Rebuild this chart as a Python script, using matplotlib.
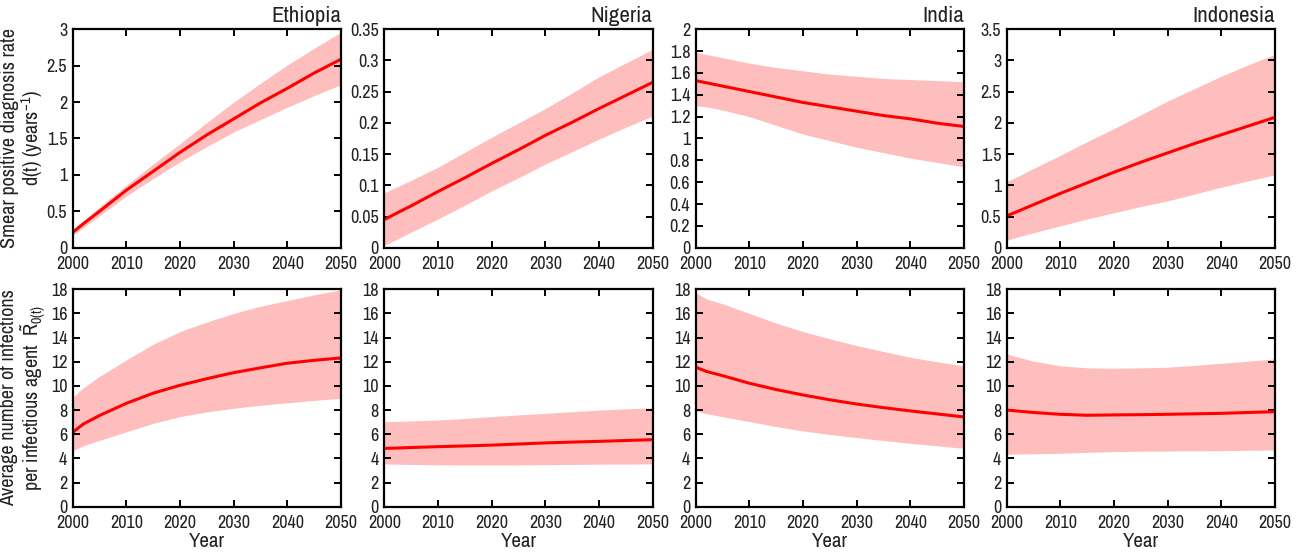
#!/usr/bin/env python
import numpy as np
import matplotlib
matplotlib.use("Agg")
from matplotlib import pyplot as plt
from matplotlib import font_manager
from matplotlib.ticker import FuncFormatter

# pick a narrow family if one is installed, the reference uses a condensed face
names = sorted({f.name for f in font_manager.fontManager.ttflist})
narrow = [n for n in names if "Narrow" in n or "Condensed" in n]
fam = narrow[0] if narrow else "Liberation Sans"
plt.rcParams['font.family'] = [fam, 'DejaVu Sans']
plt.rcParams['mathtext.fontset'] = 'custom'
plt.rcParams['mathtext.rm'] = fam
plt.rcParams['mathtext.it'] = fam
fs_scale = 1.0 if narrow else 0.88

countries = ["Ethiopia", "Nigeria", "India", "Indonesia"]
years = [2000, 2002, 2005, 2010, 2015, 2020, 2025, 2030, 2035, 2040, 2045, 2050]

# smear positive diagnosis rate d(t): median, upper, lower
d_mid = {
    "Ethiopia": [0.21, 0.33, 0.50, 0.79, 1.05, 1.31, 1.55, 1.77, 1.99, 2.19, 2.40, 2.59],
    "Nigeria": [0.045, 0.054, 0.067, 0.090, 0.112, 0.135, 0.157, 0.180, 0.201, 0.223, 0.244, 0.265],
    "India": [1.53, 1.51, 1.48, 1.43, 1.38, 1.33, 1.29, 1.25, 1.21, 1.18, 1.14, 1.11],
    "Indonesia": [0.51, 0.58, 0.69, 0.87, 1.04, 1.21, 1.37, 1.52, 1.67, 1.81, 1.95, 2.09],
}
d_hi = {
    "Ethiopia": [0.25, 0.37, 0.56, 0.86, 1.15, 1.43, 1.72, 2.00, 2.26, 2.51, 2.74, 2.96],
    "Nigeria": [0.088, 0.096, 0.108, 0.129, 0.153, 0.177, 0.200, 0.223, 0.248, 0.274, 0.296, 0.318],
    "India": [1.79, 1.77, 1.74, 1.69, 1.65, 1.62, 1.59, 1.57, 1.55, 1.54, 1.53, 1.52],
    "Indonesia": [1.06, 1.14, 1.27, 1.48, 1.70, 1.91, 2.13, 2.35, 2.55, 2.75, 2.93, 3.10],
}
d_lo = {
    "Ethiopia": [0.17, 0.28, 0.44, 0.71, 0.95, 1.18, 1.39, 1.59, 1.76, 1.93, 2.09, 2.24],
    "Nigeria": [0.004, 0.012, 0.025, 0.046, 0.068, 0.091, 0.112, 0.134, 0.154, 0.174, 0.193, 0.211],
    "India": [1.30, 1.29, 1.26, 1.20, 1.12, 1.04, 0.98, 0.92, 0.87, 0.82, 0.78, 0.74],
    "Indonesia": [0.12, 0.17, 0.24, 0.35, 0.46, 0.56, 0.66, 0.75, 0.86, 0.97, 1.07, 1.17],
}

# average number of infections R0(t): median, upper, lower
r_mid = {
    "Ethiopia": [6.16, 6.85, 7.55, 8.56, 9.4, 10.05, 10.6, 11.1, 11.5, 11.88, 12.12, 12.32],
    "Nigeria": [4.83, 4.85, 4.9, 4.97, 5.03, 5.1, 5.19, 5.28, 5.35, 5.41, 5.48, 5.55],
    "India": [11.55, 11.2, 10.85, 10.22, 9.7, 9.25, 8.85, 8.5, 8.2, 7.93, 7.68, 7.43],
    "Indonesia": [8.0, 7.92, 7.8, 7.65, 7.57, 7.6, 7.62, 7.65, 7.69, 7.73, 7.8, 7.87],
}
r_hi = {
    "Ethiopia": [9.06, 9.85, 10.8, 12.15, 13.45, 14.5, 15.3, 16.0, 16.6, 17.07, 17.55, 17.96],
    "Nigeria": [7.04, 7.06, 7.1, 7.18, 7.3, 7.46, 7.6, 7.73, 7.87, 8.0, 8.1, 8.18],
    "India": [17.73, 17.2, 16.8, 16.0, 15.2, 14.5, 13.9, 13.34, 12.85, 12.37, 12.0, 11.66],
    "Indonesia": [12.65, 12.4, 12.05, 11.66, 11.5, 11.46, 11.5, 11.55, 11.7, 11.88, 12.05, 12.24],
}
r_lo = {
    "Ethiopia": [4.64, 5.05, 5.5, 6.2, 6.9, 7.46, 7.85, 8.15, 8.4, 8.6, 8.8, 8.98],
    "Nigeria": [3.54, 3.52, 3.5, 3.47, 3.45, 3.45, 3.46, 3.48, 3.5, 3.52, 3.53, 3.54],
    "India": [7.93, 7.7, 7.45, 7.04, 6.63, 6.27, 5.98, 5.72, 5.48, 5.25, 5.04, 4.83],
    "Indonesia": [4.34, 4.36, 4.38, 4.42, 4.5, 4.56, 4.59, 4.61, 4.63, 4.64, 4.67, 4.7],
}

d_ymax = {"Ethiopia": 3, "Nigeria": 0.35, "India": 2, "Indonesia": 3.5}
d_step = {"Ethiopia": 0.5, "Nigeria": 0.05, "India": 0.2, "Indonesia": 0.5}

band_col = "#ffbebe"
line_col = "#ff0000"
txt_col = "#222222"

fig = plt.figure(figsize=(13.09, 5.57), dpi=100)
lefts = [72.7, 384.3, 695.7, 1006.7]
W, H = 1309.0, 557.0
aw = 268.4 / W


def style(ax, ymax, step):
    ax.set_xlim(2000, 2050)
    ax.set_ylim(0, ymax)
    ax.set_xticks(np.arange(2000, 2051, 10))
    ax.set_yticks(np.arange(0, ymax + step / 2, step))
    ax.yaxis.set_major_formatter(FuncFormatter(lambda v, p: ("%.2f" % v).rstrip("0").rstrip(".")))
    ax.tick_params(direction="in", top=True, right=True, length=5, width=1.4,
                   labelsize=13 * fs_scale, colors="black", labelcolor=txt_col)
    ax.tick_params(axis="x", pad=6)
    ax.tick_params(axis="y", pad=4)
    for s in ax.spines.values():
        s.set_linewidth(1.6)


for i, c in enumerate(countries):
    ax = fig.add_axes([lefts[i] / W, 1 - 247.7 / H, aw, 218.4 / H])
    ax.fill_between(years, d_lo[c], d_hi[c], color=band_col, lw=0)
    ax.plot(years, d_mid[c], color=line_col, lw=2.2)
    style(ax, d_ymax[c], d_step[c])
    ax.set_title(c, loc="right", fontsize=16.5 * fs_scale, color=txt_col, pad=5)
    if i == 0:
        ax.set_ylabel("Smear positive diagnosis rate\nd(t) (years$^{-1}$)",
                      fontsize=14.5 * fs_scale, color=txt_col, linespacing=1.0)
        ax.yaxis.set_label_coords(-28 / 268.4, 0.5)

    ax2 = fig.add_axes([lefts[i] / W, 1 - 506.7 / H, aw, 217.4 / H])
    ax2.fill_between(years, r_lo[c], r_hi[c], color=band_col, lw=0)
    ax2.plot(years, r_mid[c], color=line_col, lw=2.2)
    style(ax2, 18, 2)
    ax2.set_xlabel("Year", fontsize=15 * fs_scale, color=txt_col, labelpad=1)
    if i == 0:
        ax2.set_ylabel("Average number of infections\nper infectious agent  $\\tilde{\\mathrm{R}}_{0(t)}$",
                       fontsize=14.5 * fs_scale, color=txt_col, linespacing=1.0)
        ax2.yaxis.set_label_coords(-25 / 268.4, 0.5)

fig.savefig("out.png", dpi=100)
